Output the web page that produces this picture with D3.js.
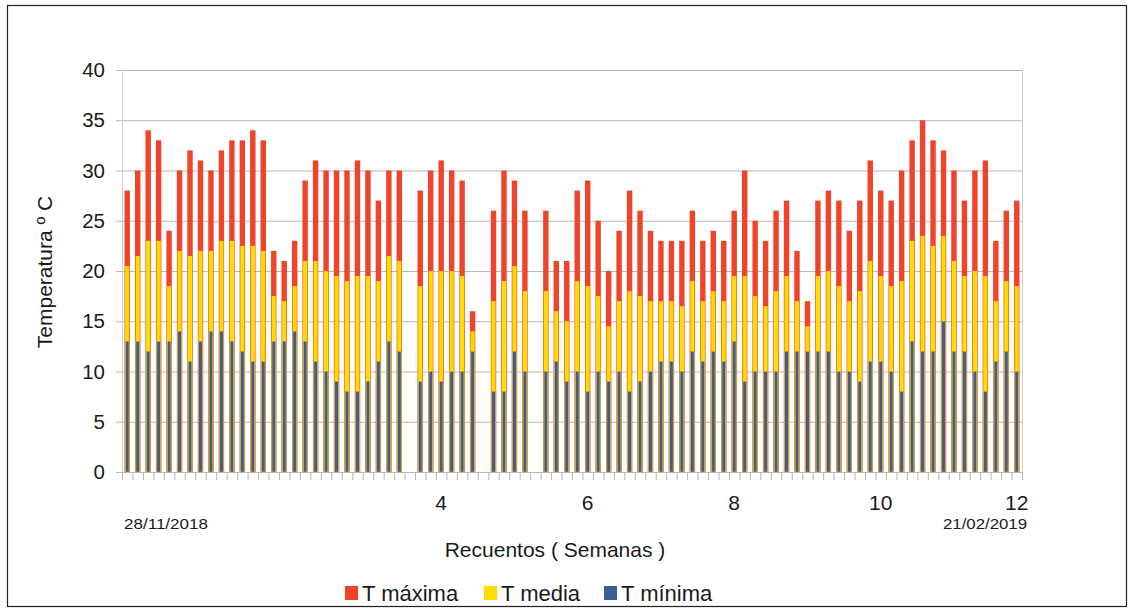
<!DOCTYPE html>
<html>
<head>
<meta charset="utf-8">
<script src="https://cdn.jsdelivr.net/npm/d3@7"></script>
<style>
  html, body { margin: 0; padding: 0; background: #fff; }
  svg { display: block; font-family: "Liberation Sans", Arial, sans-serif; }
</style>
</head>
<body>
<svg id="chart" width="1134" height="612"></svg>
<script>
// Daily temperatures, 28/11/2018 – 21/02/2019 (null = no reading)
const dayLabels = d3.timeDay.range(new Date(2018, 10, 28), new Date(2019, 1, 22))
  .map(d3.timeFormat("%d/%m/%Y"));

const tMaxima = [
  28, 30, 34, 33, 24, 30, 32, 31, 30, 32,
  33, 33, 34, 33, 22, 21, 23, 29, 31, 30,
  30, 30, 31, 30, 27, 30, 30, null, 28, 30,
  31, 30, 29, 16, null, 26, 30, 29, 26, null,
  26, 21, 21, 28, 29, 25, 20, 24, 28, 26,
  24, 23, 23, 23, 26, 23, 24, 23, 26, 30,
  25, 23, 26, 27, 22, 17, 27, 28, 27, 24,
  27, 31, 28, 27, 30, 33, 35, 33, 32, 30,
  27, 30, 31, 23, 26, 27
];
const tMedia = [
  20.5, 21.5, 23, 23, 18.5, 22, 21.5, 22, 22, 23,
  23, 22.5, 22.5, 22, 17.5, 17, 18.5, 21, 21, 20,
  19.5, 19, 19.5, 19.5, 19, 21.5, 21, null, 18.5, 20,
  20, 20, 19.5, 14, null, 17, 19, 20.5, 18, null,
  18, 16, 15, 19, 18.5, 17.5, 14.5, 17, 18, 17.5,
  17, 17, 17, 16.5, 19, 17, 18, 17, 19.5, 19.5,
  17.5, 16.5, 18, 19.5, 17, 14.5, 19.5, 20, 18.5, 17,
  18, 21, 19.5, 18.5, 19, 23, 23.5, 22.5, 23.5, 21,
  19.5, 20, 19.5, 17, 19, 18.5
];
const tMinima = [
  13, 13, 12, 13, 13, 14, 11, 13, 14, 14,
  13, 12, 11, 11, 13, 13, 14, 13, 11, 10,
  9, 8, 8, 9, 11, 13, 12, null, 9, 10,
  9, 10, 10, 12, null, 8, 8, 12, 10, null,
  10, 11, 9, 10, 8, 10, 9, 10, 8, 9,
  10, 11, 11, 10, 12, 11, 12, 11, 13, 9,
  10, 10, 10, 12, 12, 12, 12, 12, 10, 10,
  9, 11, 11, 10, 8, 13, 12, 12, 15, 12,
  12, 10, 8, 11, 12, 10
];

// Week numbers written under the category axis, keyed by the day they sit on
const weekTickDays = ["28/12/2018", "11/01/2019", "25/01/2019", "08/02/2019", "21/02/2019"];
const weekTickLabels = ["4", "6", "8", "10", "12"];
const yTicks = [0, 5, 10, 15, 20, 25, 30, 35, 40];

const seriesNames = ["T máxima", "T media", "T mínima"];
const seriesColors = ["#f0432a", "#ffdc00", "#3b5f92"];
const seriesValues = [tMaxima, tMedia, tMinima];

const svg = d3.select("#chart");
const plot = { left: 122, right: 1022, top: 70, bottom: 472 };
const textColor = "#1a1a1a";

const x = d3.scaleBand().domain(dayLabels).range([plot.left, plot.right]).padding(0);
const y = d3.scaleLinear().domain([0, 40]).range([plot.bottom, plot.top]);

// outer frame
svg.append("rect")
  .attr("x", 7.5).attr("y", 5.5).attr("width", 1119).attr("height", 601)
  .attr("fill", "none").attr("stroke", "#222").attr("stroke-width", 1.2);

// horizontal grid + y axis labels
const yAxis = d3.axisLeft(y).tickValues(yTicks).tickSize(-(plot.right - plot.left)).tickPadding(17);
const gy = svg.append("g").attr("transform", `translate(${plot.left},0)`).call(yAxis);
gy.select(".domain").remove();
gy.selectAll(".tick line").attr("stroke", "#b8b8b8").attr("x1", -6);
gy.selectAll(".tick text").attr("font-size", 20.5).attr("fill", textColor)
  .attr("font-family", "Liberation Sans, Arial, sans-serif");

// left and right edges of the plot area
[plot.left + 0.5, plot.right + 0.5].forEach(px => {
  svg.append("line")
    .attr("x1", px).attr("x2", px)
    .attr("y1", plot.top).attr("y2", plot.bottom)
    .attr("stroke", "#cfcfcf");
});

// bars: maximum behind, then media, then minimum in front
const barWidths = [5.4, 4.2, 3.0];
seriesValues.forEach((vals, si) => {
  const data = dayLabels.map((d, i) => ({ day: d, v: vals[i] })).filter(d => d.v != null);
  svg.append("g").selectAll("rect").data(data).join("rect")
    .attr("x", d => x(d.day) + x.bandwidth() / 2 - barWidths[si] / 2)
    .attr("width", barWidths[si])
    .attr("y", d => y(d.v))
    .attr("height", d => y(0) - y(d.v))
    .attr("fill", seriesColors[si]);
});
// thin amber edges beside the minimum bars
const minData = dayLabels.map((d, i) => ({ day: d, v: tMinima[i] })).filter(d => d.v != null);
svg.append("g").selectAll("rect").data(minData).join("rect")
  .attr("x", d => x(d.day) + x.bandwidth() / 2 - 2.2)
  .attr("width", 4.4)
  .attr("y", d => y(d.v))
  .attr("height", d => y(0) - y(d.v))
  .attr("fill", "none").attr("stroke", "#c9a24a").attr("stroke-width", 0.8).attr("stroke-opacity", 0.8);

// category axis with a tick between every day
const xBoundary = d3.scaleLinear().domain([0, dayLabels.length]).range([plot.left, plot.right]);
const xAxis = d3.axisBottom(xBoundary).tickValues(d3.range(0, dayLabels.length + 1))
  .tickSize(8).tickFormat("");
const gx = svg.append("g").attr("transform", `translate(0,${plot.bottom})`).call(xAxis);
gx.select(".domain").attr("stroke", "#b8b8b8").attr("d", `M${plot.left},0.5H${plot.right}`);
gx.selectAll(".tick line").attr("stroke", "#b8b8b8");

// week numbers
svg.append("g").selectAll("text").data(weekTickDays).join("text")
  .attr("x", d => x(d) + x.bandwidth() / 2)
  .attr("y", 510)
  .attr("text-anchor", "middle")
  .attr("font-size", 21).attr("fill", textColor)
  .text((d, i) => weekTickLabels[i]);

// first / last date
const dateLabel = (cx, txt) => svg.append("text")
  .attr("x", cx).attr("y", 529).attr("text-anchor", "middle")
  .attr("font-size", 15.5).attr("fill", textColor)
  .attr("textLength", 84).attr("lengthAdjust", "spacingAndGlyphs")
  .text(txt);
dateLabel(166, dayLabels[0]);
dateLabel(985, dayLabels[dayLabels.length - 1]);

// axis titles
svg.append("text").attr("x", 555).attr("y", 557).attr("text-anchor", "middle")
  .attr("font-size", 21).attr("fill", textColor).text("Recuentos ( Semanas )");
svg.append("text")
  .attr("transform", "translate(52,272) rotate(-90)")
  .attr("text-anchor", "middle")
  .attr("font-size", 21).attr("fill", textColor).text("Temperatura º C");

// legend
const legendX = [345, 484, 604];
const lg = svg.append("g");
seriesNames.forEach((name, i) => {
  lg.append("rect").attr("x", legendX[i]).attr("y", 586).attr("width", 13).attr("height", 14)
    .attr("fill", seriesColors[i]);
  lg.append("text").attr("x", legendX[i] + 17).attr("y", 601)
    .attr("font-size", 22).attr("fill", textColor).text(name);
});
</script>
</body>
</html>
